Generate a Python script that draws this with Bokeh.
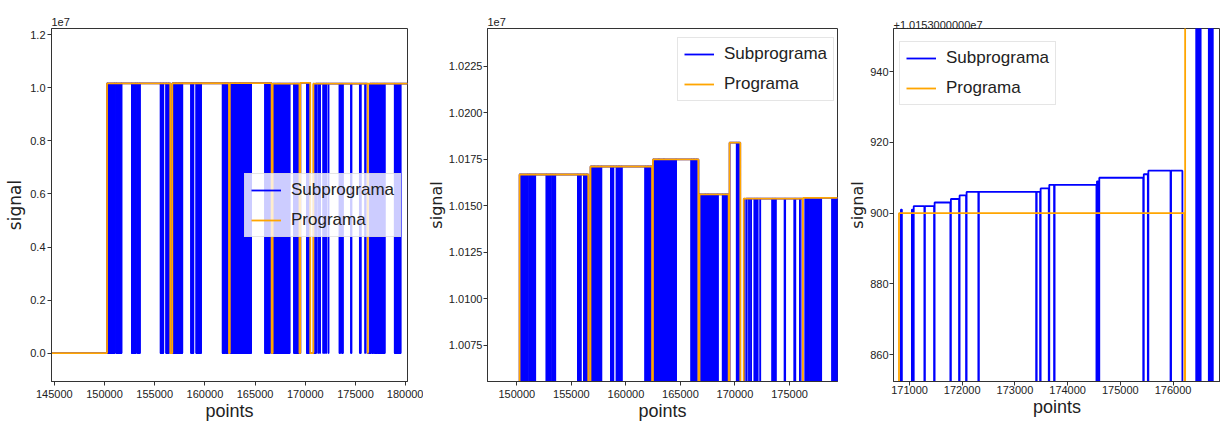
from bokeh.plotting import figure
from bokeh.layouts import row
from bokeh.models import (Range1d, FixedTicker, CustomJSTickFormatter, NumeralTickFormatter,
                          Legend, LegendItem)
from bokeh.embed import file_html
from bokeh.resources import INLINE

# ---------------- data ----------------
series_names = ["Subprograma", "Programa"]
x_label = "points"
y_label = "signal"

# Programa (orange): constant level between start and end, 0 elsewhere
prog_start = [150250, 156750, 162480, 166750, 169500, 170800, 176230]
prog_end = [156550, 162400, 166650, 169420, 170490, 176220, 181000]
prog_level = [10166900, 10171200, 10175000, 10156200, 10184000, 10153900, 10154300]

# Subprograma (blue): active spans (level) ...
sub_span_start = [150260, 156760, 162490, 166760, 169510, 176440]
sub_span_end = [156550, 162400, 166650, 169410, 170480, 181000]
sub_span_level = [10166900, 10171200, 10175000, 10156200, 10184000, 10154300]

# ... with dense drop-out bursts (signal switching to 0 many times)
burst_start = [150275, 151193, 152726, 153305, 155600, 156151,
               156885, 157160, 157500, 158629, 159152, 159391, 161778, 162090,
               162549, 163050, 163510, 166000, 166276,
               166780, 167320, 167550, 168883, 169186,
               170168,
               176440, 176680, 176920, 177220, 178917]
burst_end = [151010, 151680, 153121, 153516, 155848, 156380,
             157069, 157408, 157740, 158840, 159300, 159611, 161961, 162237,
             162960, 163420, 164596, 166184, 166460,
             167250, 167460, 168424, 169094, 169342,
             170352,
             176520, 176750, 177100, 177900, 179480]

# fine steps of Subprograma between 170800 and 176200 (single drop-outs between)
fine_start = [170837, 171045, 171080, 171292, 171476, 171785, 171950, 172083, 172316,
              173413, 173488, 173652, 173753, 174557, 174601, 175445, 175532, 175963]
fine_end = [170855, 171072, 171282, 171466, 171775, 171940, 172073, 172306, 173403,
            173478, 173642, 173743, 174547, 174591, 175435, 175522, 175953, 176178]
fine_level = [10153901, 10153901, 10153902, 10153902, 10153903, 10153904, 10153905,
              10153906, 10153906, 10153906, 10153907, 10153908, 10153908, 10153909,
              10153910, 10153911, 10153912, 10153912]

x_first, x_last = 144000, 181500

# axes
x_range_1 = (144720, 180180)
y_range_1 = (-1066000, 12234000)
x_range_2 = (147310, 179400)
y_range_2 = (10055600, 10245400)
x_range_3 = (170696, 176901)
y_range_3 = (10153852.4, 10153952.2)

x_ticks_1 = [145000, 150000, 155000, 160000, 165000, 170000, 175000, 180000]
y_ticks_1 = [0, 2000000, 4000000, 6000000, 8000000, 10000000, 12000000]
x_ticks_2 = [150000, 155000, 160000, 165000, 170000, 175000]
y_ticks_2 = [10075000, 10100000, 10125000, 10150000, 10175000, 10200000, 10225000]
x_ticks_3 = [171000, 172000, 173000, 174000, 175000, 176000]
y_ticks_3 = [10153860, 10153880, 10153900, 10153920, 10153940]

offset_texts = ["1e7", "1e7", "+1.0153000000e7"]

# ---------------- build paths ----------------
def step_path(starts, ends, levels):
    xs, ys = [x_first], [0]
    for s, e, v in sorted(zip(starts, ends, levels)):
        xs += [s, s, e, e]
        ys += [0, v, v, 0]
    xs.append(x_last)
    ys.append(0)
    return xs, ys

prog_x, prog_y = step_path(prog_start, prog_end, prog_level)

pieces_s, pieces_e, pieces_v = [], [], []
burst_top = []
bursts = sorted(zip(burst_start, burst_end))
for s, e, v in zip(sub_span_start, sub_span_end, sub_span_level):
    cur = s
    for bs, be in bursts:
        if bs >= s and be <= e:
            if bs > cur:
                pieces_s.append(cur); pieces_e.append(bs); pieces_v.append(v)
            cur = be
    if e > cur:
        pieces_s.append(cur); pieces_e.append(e); pieces_v.append(v)
for bs, be in zip(burst_start, burst_end):
    top = 0
    for s, e, v in zip(sub_span_start, sub_span_end, sub_span_level):
        if bs >= s and be <= e:
            top = v
    burst_top.append(top)

sub_x, sub_y = step_path(pieces_s + fine_start, pieces_e + fine_end, pieces_v + fine_level)

# ---------------- styling ----------------
FONT = "Liberation Sans"
TXT = "#222222"
BLUE = "#0000ff"
ORANGE = "#ffa500"
LW = 1.8
H = 423
TOP, BOTTOM = 28, 42


def panel(width, xr, yr, xt, yt, yfmt, offset_text, lr, legend_loc,
          ylab_size, ylab_standoff, y_standoff, x_standoff, t_standoff):
    bl, br = lr
    p = figure(width=width, height=H, x_range=Range1d(*xr), y_range=Range1d(*yr),
               output_backend="svg", toolbar_location=None, title=offset_text,
               min_border_left=bl, min_border_right=br,
               min_border_top=TOP, min_border_bottom=BOTTOM)
    p.background_fill_color = "white"
    p.border_fill_color = "white"
    p.outline_line_color = "#333333"
    p.outline_line_width = 1
    p.xgrid.visible = False
    p.ygrid.visible = False

    p.title.text_font = FONT
    p.title.text_font_size = "11px"
    p.title.text_font_style = "normal"
    p.title.text_color = TXT
    p.title.align = "left"
    p.title.standoff = t_standoff
    p.title.offset = 0

    for ax in (p.xaxis[0], p.yaxis[0]):
        ax.major_label_text_font = FONT
        ax.major_label_text_font_size = "11px"
        ax.major_label_text_color = TXT
        ax.major_tick_out = 4
        ax.major_tick_in = 0
        ax.minor_tick_out = 0
        ax.minor_tick_in = 0
        ax.axis_line_color = "#333333"
        ax.major_tick_line_color = "#333333"
    p.xaxis.major_label_standoff = x_standoff
    p.yaxis.major_label_standoff = y_standoff
    p.xaxis.ticker = FixedTicker(ticks=xt)
    p.xaxis.formatter = NumeralTickFormatter(format="0")
    p.yaxis.ticker = FixedTicker(ticks=yt)
    p.yaxis.formatter = CustomJSTickFormatter(code=yfmt)

    p.yaxis.axis_label = y_label
    p.yaxis.axis_label_text_font = "DejaVu Sans"
    p.yaxis.axis_label_text_font_size = ylab_size
    p.yaxis.axis_label_text_font_style = "normal"
    p.yaxis.axis_label_text_color = TXT
    p.yaxis.axis_label_standoff = ylab_standoff

    p.xaxis.axis_label = x_label
    p.xaxis.axis_label_text_font = FONT
    p.xaxis.axis_label_text_font_size = "18px"
    p.xaxis.axis_label_text_font_style = "normal"
    p.xaxis.axis_label_text_color = TXT
    p.xaxis.axis_label_standoff = 0

    r_sub = p.line(sub_x, sub_y, line_color=BLUE, line_width=LW)
    p.quad(left=burst_start, right=burst_end, bottom=0, top=burst_top,
           fill_color=BLUE, line_color=BLUE, line_width=LW)
    r_prog = p.line(prog_x, prog_y, line_color=ORANGE, line_width=LW)

    legend = Legend(items=[LegendItem(label=series_names[0], renderers=[r_sub]),
                           LegendItem(label=series_names[1], renderers=[r_prog])],
                    location=legend_loc)
    legend.label_text_font = FONT
    legend.label_text_font_size = "17px"
    legend.label_text_color = TXT
    legend.glyph_width = 30
    legend.glyph_height = 20
    legend.label_standoff = 10
    legend.padding = 6
    legend.spacing = 10
    legend.margin = 0
    legend.border_line_color = "#cccccc"
    legend.border_line_width = 1
    legend.background_fill_color = "white"
    legend.background_fill_alpha = 0.8
    p.add_layout(legend)
    return p


p1 = panel(423, x_range_1, y_range_1, x_ticks_1, y_ticks_1,
           "return (tick / 1e7).toFixed(1);", offset_texts[0],
           (51, 16), (193, 144), "17px", 2, 2, 4, 5)
p2 = panel(418, x_range_2, y_range_2, x_ticks_2, y_ticks_2,
           "return (tick / 1e7).toFixed(4);", offset_texts[1],
           (64, 4), (190, 280), "16px", 0, 1, 4, 5)
p3 = panel(379, x_range_3, y_range_3, x_ticks_3, y_ticks_3,
           "return (tick - 10153000).toFixed(0);", offset_texts[2],
           (52, 0), (6, 276), "16px", 0, 1, 0, 0)

layout = row(p1, p2, p3)
open("out.html", "w").write(file_html(layout, INLINE))
